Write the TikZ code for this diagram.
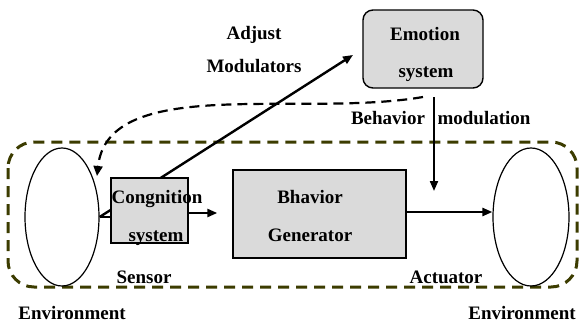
\documentclass[tikz,border=0pt]{standalone}
\usepackage{fontspec}
\setmainfont{Liberation Serif}
\usetikzlibrary{arrows.meta,shapes.geometric}
\definecolor{olivedash}{RGB}{60,60,0}
\definecolor{boxfill}{RGB}{218,218,218}
\begin{document}
\begin{tikzpicture}[x=1pt,y=-1pt,
  font=\fontsize{19}{21}\selectfont\bfseries,
  txt/.style={inner sep=0pt, anchor=base},
  boxnode/.style={draw, line width=1.4pt, fill=boxfill, inner sep=0pt},
  envell/.style={draw, ellipse, line width=1.2pt, inner sep=0pt},
  arr/.style={line width=2.4pt, -{Triangle[length=10pt,width=8pt]}},
  plainline/.style={line width=2.4pt},
  fb/.style={line width=2.2pt, dash pattern=on 10pt off 6pt, -{Triangle[length=10pt,width=9pt]}},
  region/.style={draw=olivedash, line width=3pt, dash pattern=on 11pt off 7pt, rounded corners=26pt}
]
\useasboundingbox (0,0) rectangle (581,325);

% region
\draw[region] (8,142) rectangle (577,287);

% environment ellipses
\node[envell, minimum width=74pt, minimum height=138pt] (L) at (62,217) {};
\node[envell, minimum width=76pt, minimum height=138pt] (R) at (531,217) {};

% emotion system
\node[boxnode, rounded corners=10pt, minimum width=120pt, minimum height=78pt] (emo) at (423,49) {};

% adjust modulators line (behind cognition box)
\draw[arr, shorten >=11pt] (L.east) -- (emo.west);
\draw[plainline] (L.east) -- ++(14,0);

% cognition and behavior generator boxes
\node[boxnode, minimum width=77pt, minimum height=65pt] (cog) at (149.5,210.5) {};
\node[boxnode, minimum width=173pt, minimum height=88pt] (beh) at (319.5,214) {};

\draw[arr, shorten >=15pt] (cog.east) ++(0,2.5) coordinate (ce) -- (ce -| beh.west);
\draw[arr] (beh.east) ++(0,-2) coordinate (be) -- (be -| R.west);

% behavior modulation
\coordinate (bmtop) at (434,97);
\coordinate (bmtip) at (434,191);
\draw[arr, line width=2pt] (bmtop) -- (bmtip);

% feedback dashed curve
\coordinate (fbstart) at (423,97);
\coordinate (fbend) at (97,176);
\draw[fb] (fbstart) .. controls (300,118) and (108,74) .. (fbend);

% texts
\node[txt] (t1) at (254,39) {Adjust};
\node[txt] (t2) at (254,72) {Modulators};
\node[txt] (t3) at (425,40) {Emotion};
\node[txt] (t4) at (426,77) {system};
\node[txt] (t5) at (388,124) {Behavior};
\node[txt] (t6) at (484,124) {modulation};
\node[txt] (t7) at (157,203) {Congnition};
\node[txt] (t8) at (156,241) {system};
\node[txt] (t9) at (310,203) {Bhavior};
\node[txt] (t10) at (310,241) {Generator};
\node[txt] (t11) at (144,283) {Sensor};
\node[txt] (t12) at (446,283) {Actuator};
\node[txt] (t13) at (72,319) {Environment};
\node[txt] (t14) at (522,319) {Environment};
\end{tikzpicture}
\end{document}
